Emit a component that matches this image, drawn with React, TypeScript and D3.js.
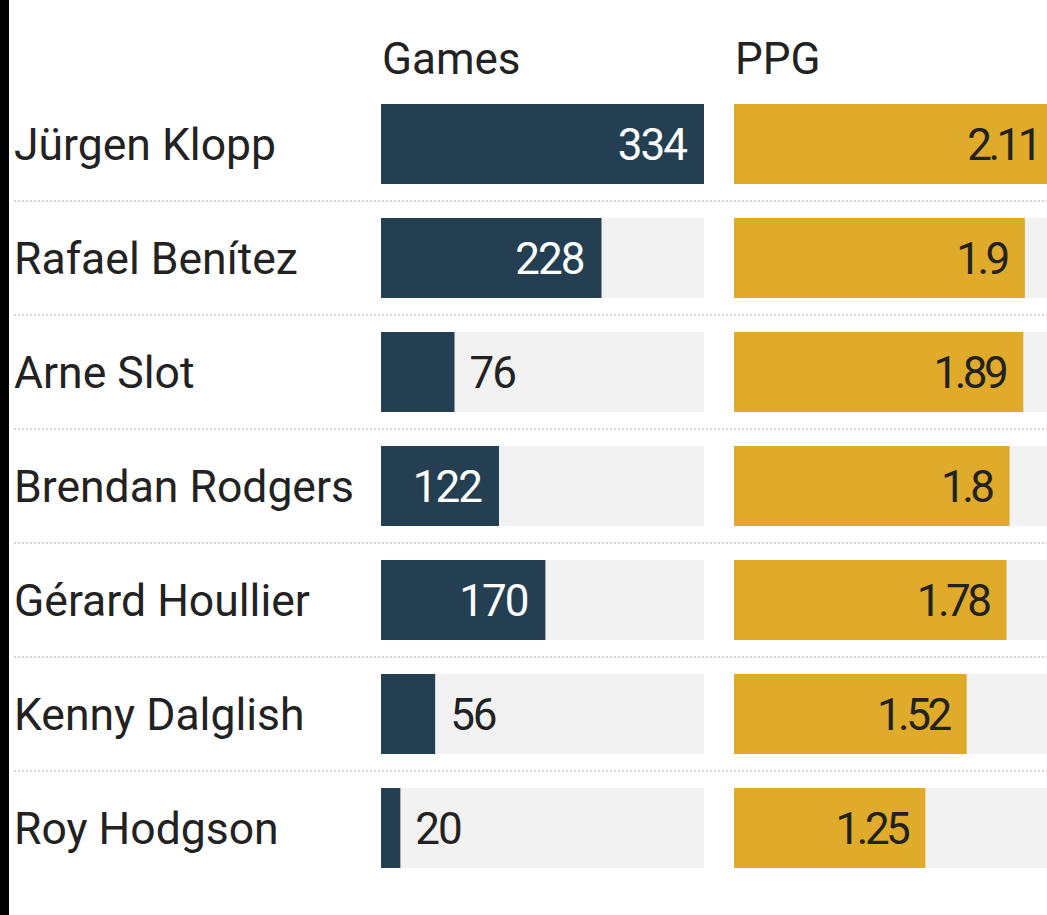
import React from 'react';
import * as d3 from 'd3';

const managers = ['Jürgen Klopp', 'Rafael Benítez', 'Arne Slot', 'Brendan Rodgers', 'Gérard Houllier', 'Kenny Dalglish', 'Roy Hodgson'];
const games = [334, 228, 76, 122, 170, 56, 20];
const ppg = [2.11, 1.9, 1.89, 1.8, 1.78, 1.52, 1.25];
const ppgLabels = ['2.11', '1.9', '1.89', '1.8', '1.78', '1.52', '1.25'];

const W = 1047;
const H = 915;
const NAVY = '#253f52';
const GOLD = '#e0aa2a';
const TRACK = '#f2f2f2';
const INK = '#222222';
const FONT = 'Roboto, "Noto Sans", sans-serif';
const FS = 44;

const App: React.FC = () => {
  const y = d3.scaleBand<string>()
    .domain(managers)
    .range([87, 885])
    .paddingInner(0.298)
    .paddingOuter(0.149);

  const colW = 323;
  const gx0 = 381;
  const px0 = 734;
  const xg = d3.scaleLinear().domain([0, d3.max(games) || 0]).range([0, colW]);
  const xp = d3.scaleLinear().domain([0, d3.max(ppg) || 0]).range([0, colW]);

  const step = y.step();
  const bw = y.bandwidth();

  return (
    <svg width={W} height={H} style={{ position: 'absolute', left: 0, top: 0, background: '#fff' }} fontFamily={FONT}>
      <rect x={0} y={0} width={9} height={H} fill="#000" />

      <text x={382} y={74} fontSize={FS} fill={INK}>Games</text>
      <text x={735} y={74} fontSize={FS} fill={INK}>PPG</text>

      {managers.map((m, i) => {
        const top = y(m) || 0;
        const cy = top + bw / 2;
        const gw = xg(games[i]);
        const pw = xp(ppg[i]);
        const gInside = gw > 90;
        return (
          <g key={m}>
            <text x={14} y={cy} dy="0.36em" fontSize={44.5} fill={INK}>{m}</text>

            <rect x={gx0} y={top} width={colW} height={bw} fill={TRACK} />
            <rect x={gx0} y={top} width={gw} height={bw} fill={NAVY} />
            <text
              x={gInside ? gx0 + gw - 18 : gx0 + gw + 15}
              y={cy}
              dy="0.36em"
              fontSize={FS}
              letterSpacing={-2}
              textAnchor={gInside ? 'end' : 'start'}
              fill={gInside ? '#fff' : INK}
            >{games[i]}</text>

            <rect x={px0} y={top} width={colW} height={bw} fill={TRACK} />
            <rect x={px0} y={top} width={pw} height={bw} fill={GOLD} />
            <text x={px0 + pw - 18} y={cy} dy="0.36em" fontSize={FS} letterSpacing={-3.5} textAnchor="end" fill={INK}>
              {ppgLabels[i]}
            </text>

            {i < managers.length - 1 && (
              <line
                x1={14}
                x2={W}
                y1={top + bw + (step - bw) / 2}
                y2={top + bw + (step - bw) / 2}
                stroke="#d6d6d6"
                strokeWidth={2}
                strokeDasharray="2,2"
              />
            )}
          </g>
        );
      })}
    </svg>
  );
};

export default App;
